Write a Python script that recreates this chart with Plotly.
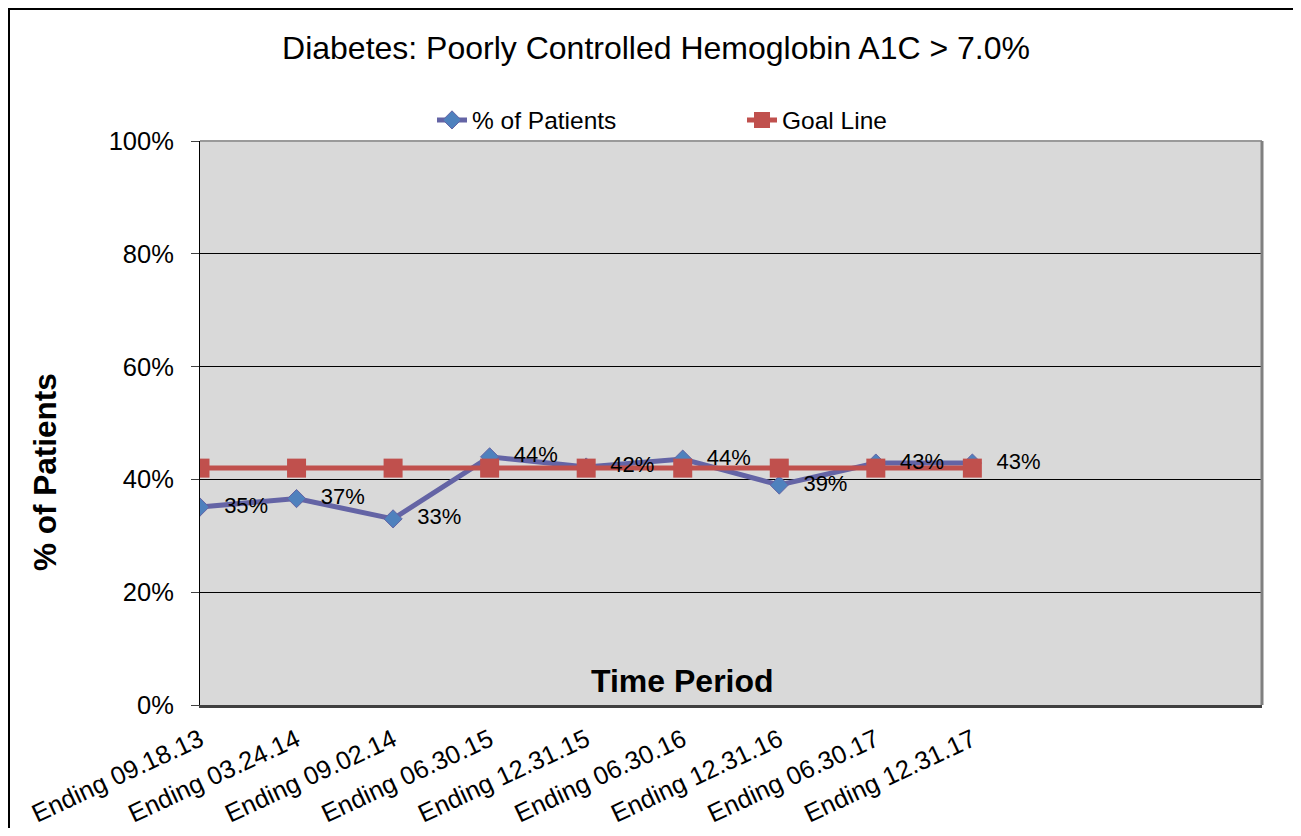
import plotly.graph_objects as go

categories = ["Ending 09.18.13", "Ending 03.24.14", "Ending 09.02.14", "Ending 06.30.15",
              "Ending 12.31.15", "Ending 06.30.16", "Ending 12.31.16", "Ending 06.30.17",
              "Ending 12.31.17"]
patients_pct = [35.1, 36.6, 33.0, 44.0, 42.2, 43.6, 39.0, 42.9, 42.9]
goal_pct = [42, 42, 42, 42, 42, 42, 42, 42, 42]
y_ticks = [0, 20, 40, 60, 80, 100]
y_tick_labels = ["0%", "20%", "40%", "60%", "80%", "100%"]
n_slots = 12  # category slots on the axis (last ones empty)

FONT = "Liberation Sans, Arial, sans-serif"
OFF = 8  # page body margin
W, H = 1301 - 2 * OFF, 836 - 2 * OFF
L, T = 200 - OFF, 141 - OFF
PW, PH = 1062, 564
R, B = W - L - PW, H - T - PH

def px_x(x):  # page px -> paper
    return (x - OFF - L) / PW

def px_y(y):
    return (T + PH - (y - OFF)) / PH

xs = list(range(len(categories)))

fig = go.Figure()
fig.add_trace(go.Scatter(
    x=xs, y=patients_pct, name="% of Patients", mode="lines+markers",
    line=dict(color="#6464a5", width=5),
    marker=dict(symbol="diamond", size=14, color="#4f81bd", line=dict(color="#6464a5", width=1)),
    legend="legend",
))
fig.add_trace(go.Scatter(
    x=xs, y=goal_pct, name="Goal Line", mode="lines+markers",
    line=dict(color="#c0504d", width=5),
    marker=dict(symbol="square", size=19, color="#c0504d"),
    legend="legend2",
))
fig.add_trace(go.Scatter(
    x=xs, y=patients_pct, mode="markers+text", showlegend=False, hoverinfo="skip",
    text=[f"{v:.0f}%" for v in patients_pct], textposition="middle right",
    textfont=dict(family=FONT, size=22, color="black"),
    marker=dict(size=37, color="rgba(0,0,0,0)"),
))

fig.update_layout(
    width=W, height=H,
    margin=dict(l=L, r=R, t=T, b=B, autoexpand=False),
    paper_bgcolor="white", plot_bgcolor="#d9d9d9",
    font=dict(family=FONT, color="black"),
    title=dict(text="Diabetes: Poorly Controlled Hemoglobin A1C > 7.0%",
               x=(656 - OFF) / W, xanchor="center", y=1 - (48 - OFF) / H, yanchor="middle",
               xref="container", yref="container",
               font=dict(family=FONT, size=32, color="black")),
    legend=dict(orientation="h", x=px_x(432), y=px_y(120), xanchor="left", yanchor="middle",
                font=dict(family=FONT, size=24.5), bgcolor="rgba(0,0,0,0)"),
    legend2=dict(orientation="h", x=px_x(742), y=px_y(120), xanchor="left", yanchor="middle",
                 font=dict(family=FONT, size=24.5), bgcolor="rgba(0,0,0,0)"),
    showlegend=True,
    xaxis=dict(range=[0, n_slots - 1], tickmode="array", tickvals=xs, ticktext=categories,
               tickangle=-25, tickfont=dict(family=FONT, size=25.5), showgrid=False,
               zeroline=False, showline=True, linecolor="#404040", linewidth=3,
               ticks="", ticklabelstandoff=7, automargin=False),
    yaxis=dict(range=[0, 100], tickmode="array", tickvals=y_ticks, ticktext=y_tick_labels,
               tickfont=dict(family=FONT, size=25.5), showgrid=True, gridcolor="black",
               gridwidth=1, zeroline=False, showline=True, linecolor="black", linewidth=1,
               ticks="outside", ticklen=8, tickcolor="#404040", ticklabelstandoff=12,
               automargin=False),
    shapes=[
        dict(type="line", xref="paper", yref="paper", x0=0, x1=1, y0=1, y1=1,
             line=dict(color="#9a9a9a", width=2)),
        dict(type="line", xref="paper", yref="paper", x0=1, x1=1, y0=0, y1=1,
             line=dict(color="#808080", width=3)),
        dict(type="rect", xref="paper", yref="paper", x0=px_x(9), y0=px_y(860),
             x1=px_x(1330), y1=px_y(9), line=dict(color="black", width=2), layer="above"),
    ],
    annotations=[
        dict(text="<b>Time Period</b>", xref="paper", yref="paper", x=px_x(682), y=px_y(681),
             xanchor="center", yanchor="middle",
             showarrow=False, font=dict(family=FONT, size=32, color="black")),
        dict(text="<b>% of Patients</b>", xref="paper", yref="paper", x=px_x(45), y=px_y(472),
             xanchor="center", yanchor="middle",
             showarrow=False, textangle=-90, font=dict(family=FONT, size=31.5, color="black")),
    ],
)

fig.write_html("out.html")
